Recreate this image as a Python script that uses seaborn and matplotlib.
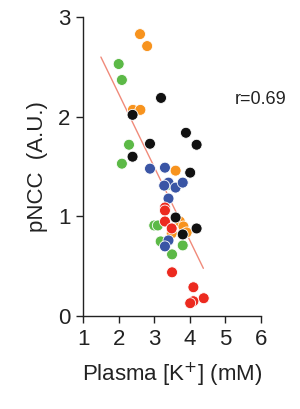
import numpy as np
import pandas as pd
import matplotlib
matplotlib.use("Agg")
import matplotlib.pyplot as plt
import seaborn as sns

orange_x = [2.60, 2.80, 2.40, 2.61, 3.60, 3.72, 3.82, 3.91, 3.49]
orange_y = [2.83, 2.71, 2.07, 2.07, 1.46, 0.95, 0.90, 0.84, 0.83]
green_x = [2.00, 2.09, 2.29, 2.09, 3.40, 3.00, 3.10, 3.18, 3.80, 3.50]
green_y = [2.53, 2.37, 1.72, 1.53, 1.32, 0.91, 0.91, 0.75, 0.71, 0.62]
black_x = [3.19, 2.39, 3.89, 4.19, 2.88, 2.39, 4.01, 3.60, 4.19, 3.80]
black_y = [2.19, 2.02, 1.84, 1.72, 1.73, 1.60, 1.44, 0.99, 0.88, 0.82]
blue_x = [2.88, 3.30, 3.40, 3.28, 3.60, 3.80, 3.40, 3.40, 3.30]
blue_y = [1.48, 1.49, 1.34, 1.31, 1.29, 1.34, 1.18, 0.76, 0.70]
red_x = [3.30, 3.30, 3.30, 3.49, 3.50, 4.10, 4.39, 4.10, 4.01]
red_y = [1.09, 1.06, 0.95, 0.88, 0.44, 0.29, 0.18, 0.15, 0.13]

line_x = [1.50, 4.38]
line_y = [2.60, 0.48]

groups = {
    "orange": (orange_x, orange_y, "#f7931e"),
    "green": (green_x, green_y, "#5cb947"),
    "blue": (blue_x, blue_y, "#3a55a5"),
    "red": (red_x, red_y, "#ec2a1f"),
    "black": (black_x, black_y, "#111111"),
}

rows = []
for g, (xs, ys, c) in groups.items():
    for x, y in zip(xs, ys):
        rows.append({"x": x, "y": y, "g": g})
df = pd.DataFrame(rows)
palette = {g: v[2] for g, v in groups.items()}

sns.set_style("ticks")
plt.rcParams["font.family"] = ["Liberation Sans", "DejaVu Sans"]

fig = plt.figure(figsize=(3.0, 4.09), dpi=100)
ax = fig.add_axes([0.277, 0.227, 0.593, 0.731])

sns.lineplot(x=line_x, y=line_y, ax=ax, color="#f08a7a", linewidth=1.0, zorder=1)
sns.scatterplot(data=df, x="x", y="y", hue="g", palette=palette, ax=ax,
                s=62, edgecolor="white", linewidth=0.6, legend=False, zorder=2)

ax.set_xlim(1, 6)
ax.set_ylim(0, 3)
ax.set_xticks([1, 2, 3, 4, 5, 6])
ax.set_yticks([0, 1, 2, 3])
ax.tick_params(labelsize=16, length=5, width=1.0, colors="#222222", pad=4)
for s in ["left", "bottom"]:
    ax.spines[s].set_linewidth(1.0)
    ax.spines[s].set_color("#222222")
sns.despine(ax=ax)

ax.set_xlabel("Plasma [K$^{+}$] (mM)", fontsize=16, color="#222222", labelpad=8)
ax.set_ylabel("pNCC  (A.U.)", fontsize=16, color="#222222", labelpad=7)
ax.text(5.27, 2.17, "r=0.69", fontsize=13, ha="left", va="center", color="#222222")

fig.savefig("out.png", dpi=100)
